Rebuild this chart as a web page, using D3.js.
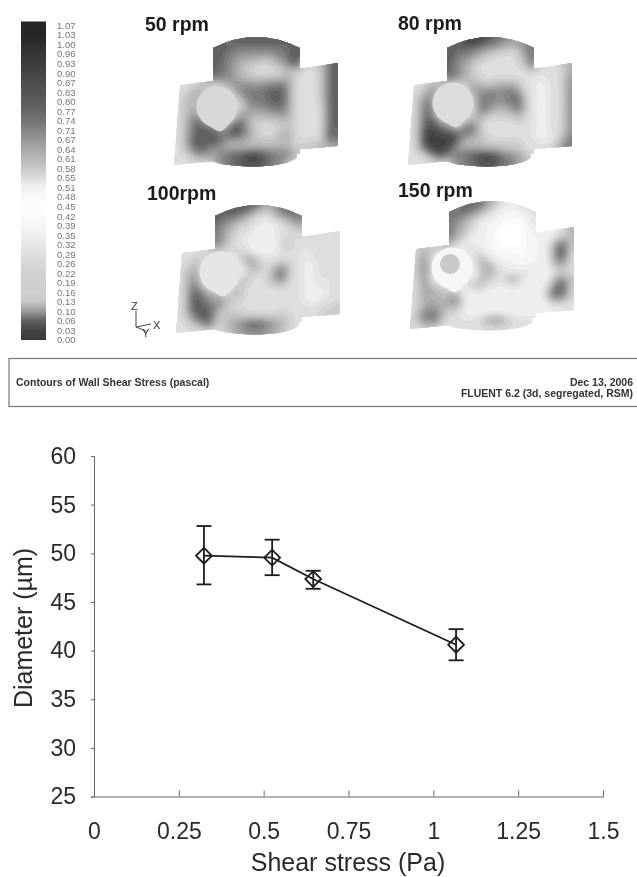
<!DOCTYPE html>
<html>
<head>
<meta charset="utf-8">
<script src="https://cdn.jsdelivr.net/npm/d3@7"></script>
<style>
    body { margin: 0; background: #fff; }
    text { font-family: "Liberation Sans", Arial, sans-serif; }
</style>
</head>
<body>
<div id="figure"></div>
<script>
// contour legend
const legendLabels = ["1.07","1.03","1.00","0.96","0.93","0.90","0.87","0.83","0.80","0.77","0.74","0.71","0.67","0.64","0.61","0.58","0.55","0.51","0.48","0.45","0.42","0.39","0.35","0.32","0.29","0.26","0.22","0.19","0.16","0.13","0.10","0.06","0.03","0.00"];
const legendGrays = ["#262626","#262626","#2a2a2a","#333333","#3a3a3a","#424242","#4a4a4a","#525252","#5a5a5a","#646464","#707070","#808080","#929292","#a4a4a4","#b4b4b4","#c4c4c4","#d8d8d8","#eeeeee","#f8f8f8","#fdfdfd","#fbfbfb","#f6f6f6","#f0f0f0","#e8e8e8","#e0e0e0","#d8d8d8","#d2d2d2","#cecece","#d0d0d0","#c8c8c8","#9c9c9c","#606060","#444444","#383838"];

const map50 = [
    ".........4777777777774.......",
    ".......677777777777776.......",
    ".......777666666666677.......",
    ".......776655555556677.......",
    ".......776554443345677.......",
    ".......766543322233467223367.",
    ".......766543322222422222367.",
    ".......765544333333442222367.",
    ".222233225555555666632222367.",
    ".223452222366666677632222367.",
    ".233522222236666777632222367.",
    ".234422222223666677632222367.",
    ".234422222223555666632222267.",
    ".234522222236444455532222267.",
    ".235662222265333333432222267.",
    ".235776633786432223332222267.",
    ".235777766876432223432222276.",
    ".236777766665433334532222277.",
    ".236777773333333333332333444.",
    ".234775445555555555543.......",
    "2223455566778998766653.......",
    "222222235667777766542........",
    "............................."
];
const map80 = [
    ".........4888877664444.......",
    ".......678888776555566.......",
    ".......776766555433466.......",
    ".......776655432222356.......",
    ".......765543222222347.......",
    ".......765432222222237222234.",
    ".......765432222222222222224.",
    ".......665433222222222122225.",
    ".222333322343334444322112225.",
    ".223562222256555566322112225.",
    ".234622222225576566722112225.",
    ".235722222225755566722112225.",
    ".236722222224754446632112225.",
    ".236722222225533334522112225.",
    ".237772222244222222322112225.",
    ".237776622764222222222112225.",
    ".238887776764222222222112225.",
    ".238888887444322222222111236.",
    ".238888883333333333322222356.",
    ".235888755555444333322.......",
    "2222378566778998766533.......",
    "22222222556677776654.........",
    "............................."
];
const map100 = [
    ".........5777775556776.......",
    ".......678877643356776.......",
    ".......776664322245566.......",
    ".......765533221122355.......",
    ".......654322211112233.......",
    ".......654322111122223222222.",
    ".......653221111112322222222.",
    ".......643222111113322222222.",
    ".222222322322111112222122222.",
    ".222332111135422222222122222.",
    ".223411111113542224322112222.",
    ".234411111111432357322112222.",
    ".235411111114222357322112222.",
    ".236422111143222345222112122.",
    ".236622221332222222222112122.",
    ".237764332442222222222111122.",
    ".237765553322222222222111222.",
    ".237776553222222222222222223.",
    ".237777523332222223222222333.",
    ".234777333333333333322.......",
    "2223467334567887654322.......",
    "2222222223445555443 2........",
    "............................."
];
const map150 = [
    ".........4666544222223.......",
    ".......567777532111223.......",
    ".......667654321111112.......",
    ".......665432111110112.......",
    ".......654321111000012.......",
    ".......654321110000011111224.",
    ".......643211110000011111124.",
    ".......532111110000011112663.",
    ".233333211221110000101113773.",
    ".244311111123111111011113772.",
    ".245114431124311111011113662.",
    ".246114431113542111111112442.",
    ".246114331112542211221111222.",
    ".245113111113422254211112553.",
    ".236221111335222123111113773.",
    ".235443321122111111111126772.",
    ".235443452111111111111127663.",
    ".234444563111111111111113331.",
    ".235553432111111111111111112.",
    ".256663221111111111111111222.",
    ".256662222222566532222.......",
    "322332222222222222222........",
    "............................."
];
const shades = ["#ffffff","#f2f2f2","#dedede","#c8c8c8","#b0b0b0","#969696","#7a7a7a","#5c5c5c","#404040","#242424"];

// diameter vs shear stress
const shearStress = [0.324, 0.525, 0.646, 1.067];
const diameter = [49.75, 49.55, 47.35, 40.6];
const diameterHigh = [52.8, 51.4, 48.2, 42.2];
const diameterLow = [46.8, 47.75, 46.35, 39.0];
const xTicks = [0, 0.25, 0.5, 0.75, 1, 1.25, 1.5];
const yTicks = [25, 30, 35, 40, 45, 50, 55, 60];

const width = 637, height = 877;
const svg = d3.select("#figure").append("svg")
    .attr("width", width)
    .attr("height", height)
    .style("display", "block");

const defs = svg.append("defs");
function addBlur(id, amount) {
    defs.append("filter")
        .attr("id", id)
        .attr("x", "-10%").attr("y", "-10%").attr("width", "120%").attr("height", "120%")
        .append("feGaussianBlur").attr("stdDeviation", amount);
}
addBlur("soft", 0.7);
addBlur("scan", 0.35);

// legend bar, a gradient through the gray of each label
const legendY = d3.scalePoint().domain(legendLabels).range([25.5, 340]);
const legendGradient = defs.append("linearGradient")
    .attr("id", "legendRamp")
    .attr("x1", 0).attr("x2", 0).attr("y1", 0).attr("y2", 1);
legendGradient.selectAll("stop")
    .data(legendLabels)
    .join("stop")
    .attr("offset", (d, i) => i / (legendLabels.length - 1))
    .attr("stop-color", (d, i) => legendGrays[i]);
const legend = svg.append("g");
legend.append("rect")
    .attr("filter", "url(#scan)")
    .attr("x", 21)
    .attr("y", 21.5)
    .attr("width", 25)
    .attr("height", 318.5)
    .attr("fill", "url(#legendRamp)");
legend.append("g")
    .attr("filter", "url(#scan)")
    .selectAll("text")
    .data(legendLabels)
    .join("text")
    .attr("x", 57)
    .attr("y", d => legendY(d) + 3.4)
    .attr("font-size", 9.6)
    .attr("fill", "#777")
    .text(d => d);

// fill cells outside the walls from their neighbours, so blurring does not fade the edges
function spreadValues(values, cols, nrows) {
    let out = values.slice();
    for (let pass = 0; pass < 6; pass++) {
        const next = out.slice();
        for (let r = 0; r < nrows; r++) {
            for (let c = 0; c < cols; c++) {
                if (out[r * cols + c] !== null) continue;
                const near = [];
                if (c > 0) near.push(out[r * cols + c - 1]);
                if (c < cols - 1) near.push(out[r * cols + c + 1]);
                if (r > 0) near.push(out[(r - 1) * cols + c]);
                if (r < nrows - 1) near.push(out[(r + 1) * cols + c]);
                const m = d3.mean(near.filter(v => v !== null));
                if (m !== undefined) next[r * cols + c] = m;
            }
        }
        out = next;
    }
    return out.map(v => v === null ? 0 : v);
}

// inlet face: a circle drawn out to a small tip at the bottom
const inletShape = d3.lineRadial()
    .angle(d => d)
    .radius(d => 20.5 + 4 * Math.exp(-Math.pow((d - 3.0) / 0.3, 2)))
    .curve(d3.curveCardinalClosed);

// one panel of the contour figure
const cell = 6, fine = 3;
function drawPanel(id, rows, left, top, sphere) {
    const cols = 29, nrows = rows.length;
    const coarse = [];
    rows.forEach(r => {
        const row = r.padEnd(cols, ".").slice(0, cols);
        for (const ch of row) {
            coarse.push(ch === "." || ch === " " ? null : +ch);
        }
    });
    const filled = spreadValues(coarse, cols, nrows);

    // bilinear upsample, then smooth
    const w = (cols - 1) * fine + 1, h = (nrows - 1) * fine + 1;
    const values = new Float64Array(w * h);
    for (let j = 0; j < h; j++) {
        for (let i = 0; i < w; i++) {
            const u = i / fine, v = j / fine;
            const c0 = Math.min(Math.floor(u), cols - 2), r0 = Math.min(Math.floor(v), nrows - 2);
            const fu = u - c0, fv = v - r0;
            values[j * w + i] =
                filled[r0 * cols + c0] * (1 - fu) * (1 - fv) +
                filled[r0 * cols + c0 + 1] * fu * (1 - fv) +
                filled[(r0 + 1) * cols + c0] * (1 - fu) * fv +
                filled[(r0 + 1) * cols + c0 + 1] * fu * fv;
        }
    }
    d3.blur2({data: values, width: w, height: h}, 1.5);

    const contours = d3.contours()
        .size([w, h])
        .thresholds(d3.range(0.2, 9, 0.4))(Array.from(values));
    const step = cell / fine;
    const project = d3.geoTransform({
        point: function (x, y) {
            this.stream.point(left + (x - 0.5) * step, top + (y - 0.5) * step);
        }
    });
    const path = d3.geoPath(project);
    const shade = d3.scaleLinear().domain(d3.range(shades.length)).range(shades);

    // silhouette of the vessel walls
    const clip = defs.append("clipPath").attr("id", id);
    const at = (px, py) => `${left + px},${top + py}`;
    [
        `M${at(41, 12)}Q${at(84, -10)} ${at(128, 12)}L${at(128, 118)}L${at(41, 118)}Z`,
        `M${at(8, 49)}L${at(42, 45)}L${at(42, 125)}L${at(2, 129)}Z`,
        `M${at(120, 34)}L${at(166, 27)}L${at(166, 110)}L${at(118, 114)}Z`
    ].forEach(d => clip.append("path").attr("d", d));
    clip.append("ellipse")
        .attr("cx", left + 80).attr("cy", top + 120)
        .attr("rx", 45).attr("ry", 10.5);

    const panel = svg.append("g").attr("filter", "url(#soft)");
    panel.append("g")
        .attr("clip-path", `url(#${id})`)
        .selectAll("path")
        .data(contours)
        .join("path")
        .attr("d", path)
        .attr("fill", d => shade(d.value + 0.2));

    // inlet face, drawn over the field
    panel.append("path")
        .attr("transform", `translate(${left + sphere.cx},${top + sphere.cy})`)
        .attr("d", inletShape(d3.range(0, 2 * Math.PI, 0.2)))
        .attr("fill", sphere.fill);
    if (sphere.inner) {
        panel.append("ellipse")
            .attr("cx", left + sphere.cx - 2).attr("cy", top + sphere.cy - 4)
            .attr("rx", 10).attr("ry", 10)
            .attr("fill", sphere.inner);
    }
}
drawPanel("wall50", map50, 172, 36, {cx: 45, cy: 71, fill: "#d8d8d8"});
drawPanel("wall80", map80, 406, 36, {cx: 47, cy: 67, fill: "#dcdcdc"});
drawPanel("wall100", map100, 174, 204, {cx: 46, cy: 68, fill: "#e6e6e6"});
drawPanel("wall150", map150, 408, 200, {cx: 44, cy: 68, fill: "#f6f6f6", inner: "#c8c8c8"});

const panelTitles = svg.append("g")
    .attr("font-size", 19.5)
    .attr("font-weight", "bold")
    .attr("fill", "#1a1a1a")
    .attr("filter", "url(#scan)");
[["50 rpm", 145, 31], ["80 rpm", 398, 30], ["100rpm", 147, 200], ["150 rpm", 398, 197]].forEach(t => {
    panelTitles.append("text").attr("x", t[1]).attr("y", t[2]).text(t[0]);
});

// axes triad of the solver window
const triad = svg.append("g").attr("filter", "url(#scan)");
triad.append("path")
    .attr("fill", "none").attr("stroke", "#444").attr("stroke-width", 1)
    .attr("d", "M136,311V327L151,324M136,327L146,331");
[["Z", 131, 310], ["X", 153, 329], ["Y", 142, 337]].forEach(t => {
    triad.append("text").attr("x", t[1]).attr("y", t[2])
        .attr("font-size", 11).attr("fill", "#333").text(t[0]);
});

// footer box
svg.append("rect")
    .attr("x", 9).attr("y", 358.5)
    .attr("width", 640).attr("height", 48)
    .attr("fill", "none").attr("stroke", "#777").attr("stroke-width", 1.2);
const footer = svg.append("g")
    .attr("font-size", 10.5).attr("fill", "#333").attr("font-weight", "bold")
    .attr("filter", "url(#scan)");
footer.append("text").attr("x", 16).attr("y", 385.5).text("Contours of Wall Shear Stress (pascal)");
footer.append("text").attr("x", 633).attr("y", 385.5).attr("text-anchor", "end").text("Dec 13, 2006");
footer.append("text").attr("x", 633).attr("y", 396.5).attr("text-anchor", "end").text("FLUENT 6.2 (3d, segregated, RSM)");

// line chart
const x = d3.scaleLinear().domain([0, 1.5]).range([94, 603]);
const y = d3.scaleLinear().domain([25, 60]).range([796.5, 456]);
const chart = svg.append("g").attr("filter", "url(#scan)");

const xAxis = chart.append("g")
    .attr("transform", "translate(0,796.5)")
    .call(d3.axisBottom(x).tickValues(xTicks).tickFormat(d => d).tickSize(-6).tickPadding(26));
const yAxis = chart.append("g")
    .attr("transform", "translate(94,0)")
    .call(d3.axisLeft(y).tickValues(yTicks).tickSize(3).tickPadding(15));
[xAxis, yAxis].forEach(a => {
    a.selectAll("path,line").attr("stroke", "#666").attr("stroke-width", 1);
    a.selectAll("text").attr("font-size", 23).attr("fill", "#2a2a2a")
        .attr("font-family", '"Liberation Sans", Arial, sans-serif');
});

chart.append("text")
    .attr("transform", "translate(32,628) rotate(-90)")
    .attr("text-anchor", "middle")
    .attr("font-size", 25)
    .attr("fill", "#2a2a2a")
    .text("Diameter (µm)");
chart.append("text")
    .attr("x", 348)
    .attr("y", 871)
    .attr("text-anchor", "middle")
    .attr("font-size", 25)
    .attr("fill", "#2a2a2a")
    .text("Shear stress (Pa)");

const line = d3.line()
    .x((d, i) => x(shearStress[i]))
    .y(d => y(d));
const marks = chart.append("g").attr("stroke", "#1c1c1c").attr("stroke-width", 1.8).attr("fill", "none");
marks.append("path").attr("d", line(diameter));

const point = marks.selectAll("g")
    .data(shearStress)
    .join("g");
point.append("line")
    .attr("x1", d => x(d)).attr("x2", d => x(d))
    .attr("y1", (d, i) => y(diameterHigh[i]))
    .attr("y2", (d, i) => y(diameterLow[i]));
point.append("line")
    .attr("x1", d => x(d) - 7.5).attr("x2", d => x(d) + 7.5)
    .attr("y1", (d, i) => y(diameterHigh[i]))
    .attr("y2", (d, i) => y(diameterHigh[i]));
point.append("line")
    .attr("x1", d => x(d) - 7.5).attr("x2", d => x(d) + 7.5)
    .attr("y1", (d, i) => y(diameterLow[i]))
    .attr("y2", (d, i) => y(diameterLow[i]));
point.append("path")
    .attr("d", d3.symbol(d3.symbolSquare, 125))
    .attr("transform", (d, i) => `translate(${x(d)},${y(diameter[i])}) rotate(45)`);
</script>
</body>
</html>
